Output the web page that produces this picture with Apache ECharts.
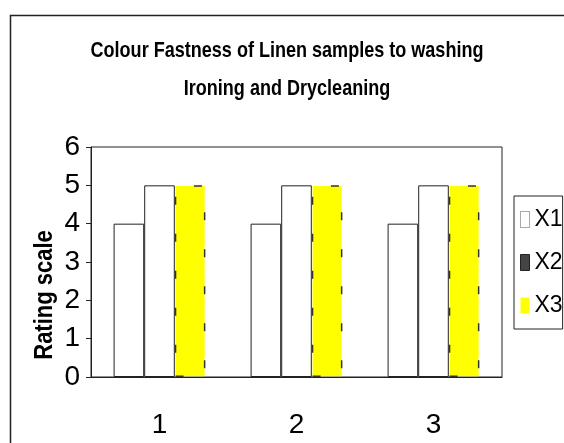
<!DOCTYPE html>
<html>
<head>
<meta charset="UTF-8">
<title></title>
<script src="https://cdn.jsdelivr.net/npm/echarts@6/dist/echarts.min.js"></script>
<style>
html,body{margin:0;padding:0;background:#fff;}
#main{width:564px;height:443px;}
</style>
</head>
<body>
<div id="main"></div>
<script>
// data
var categories = ['1', '2', '3'];
var x1 = [4, 4, 4];
var x2 = [5, 5, 5];
var x3 = [5, 5, 5];
var titleLines = ['Colour Fastness of Linen samples to washing', 'Ironing and Drycleaning'];
var yName = 'Rating scale';

var myChart = echarts.init(document.getElementById('main'));
var font = 'Liberation Sans, Arial, sans-serif';
var option = {
	backgroundColor: '#fff',
	animation: false,
	graphic: [
		// outer frame
		{ type: 'rect', left: 8, top: 13, shape: { width: 600, height: 500 },
		  style: { fill: 'none', stroke: '#222', lineWidth: 1.5 } },
		// title, squeezed like the original
		{ type: 'text', x: 287, y: 51, scaleX: 0.82,
		  style: { text: titleLines[0], font: 'bold 22px ' + font, fill: '#000', align: 'center', verticalAlign: 'middle' } },
		{ type: 'text', x: 287, y: 89, scaleX: 0.82,
		  style: { text: titleLines[1], font: 'bold 22px ' + font, fill: '#000', align: 'center', verticalAlign: 'middle' } },
		// y axis name
		{ type: 'text', x: 45, y: 295, rotation: Math.PI / 2, scaleX: 0.845,
		  style: { text: yName, font: 'bold 26px ' + font, fill: '#000', align: 'center', verticalAlign: 'middle' } }
	],
	grid: {
		left: 91, right: 62, top: 147, bottom: 66,
		show: true, borderColor: '#222', borderWidth: 1, backgroundColor: '#fff'
	},
	legend: {
		orient: 'vertical',
		left: 514, top: 196,
		padding: [11, 0, 11, 6],
		itemGap: 18,
		itemWidth: 9, itemHeight: 16,
		borderColor: '#222', borderWidth: 1,
		textStyle: { fontFamily: font, fontSize: 23, color: '#000', height: 25, lineHeight: 25 },
		data: [
			{ name: 'X1', icon: 'rect', itemStyle: { color: '#fff', borderColor: '#555', borderWidth: 1, borderType: 'dotted' } },
			{ name: 'X2', icon: 'rect', itemStyle: { color: '#444', borderColor: '#222', borderWidth: 1 } },
			{ name: 'X3', icon: 'rect', itemStyle: { color: '#ffff00', borderWidth: 0 } }
		]
	},
	xAxis: {
		type: 'category',
		data: categories,
		axisLine: { lineStyle: { color: '#222', width: 1 } },
		axisTick: { length: 10, lineStyle: { color: '#222' } },
		axisLabel: { fontFamily: font, fontSize: 28, color: '#000', margin: 34 },
		splitLine: { show: false }
	},
	yAxis: {
		type: 'value',
		min: 0, max: 6, interval: 1,
		axisLine: { show: true, lineStyle: { color: '#222', width: 1 } },
		axisTick: { show: true, length: 5, lineStyle: { color: '#222' } },
		axisLabel: { fontFamily: font, fontSize: 28, color: '#000', margin: 11 },
		splitLine: { show: false }
	},
	series: [
		{ name: 'X1', type: 'bar', data: x1, barGap: '0%', barCategoryGap: '33%',
		  itemStyle: { color: '#fff', borderColor: '#222', borderWidth: 1 } },
		{ name: 'X2', type: 'bar', data: x2,
		  itemStyle: { color: '#fff', borderColor: '#222', borderWidth: 1 } },
		{ name: 'X3', type: 'bar', data: x3,
		  itemStyle: { color: '#ffff00', borderColor: '#333', borderWidth: 1.5, borderType: [8, 29], borderDashOffset: 0 } }
	]
};
myChart.setOption(option);
</script>
</body>
</html>
